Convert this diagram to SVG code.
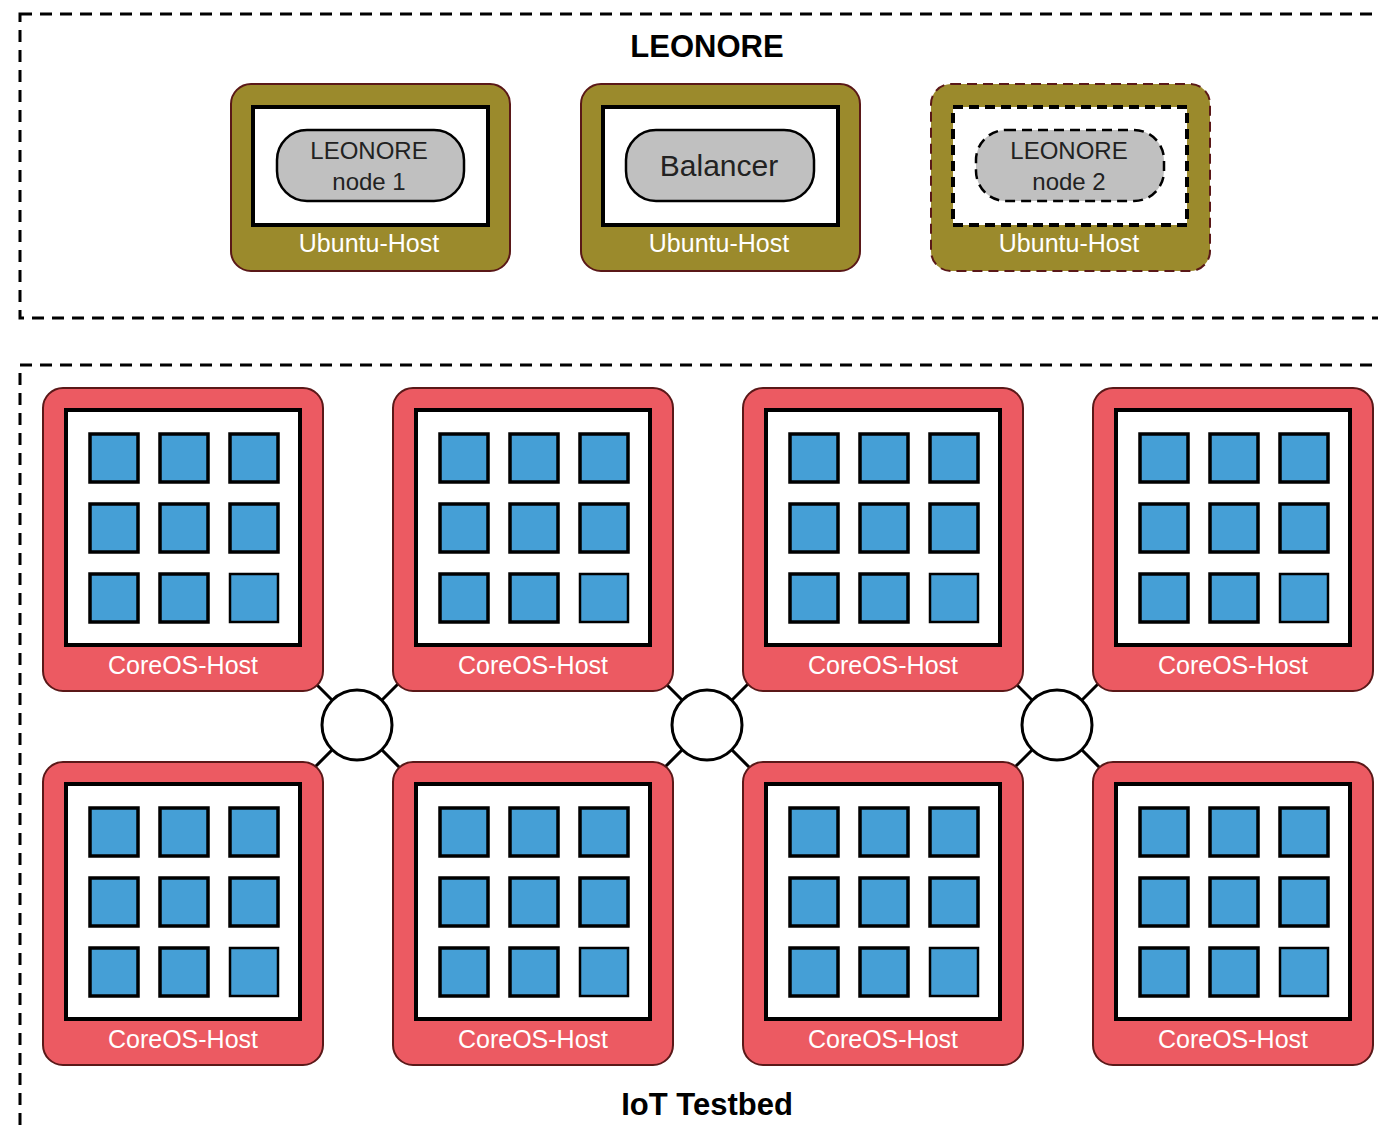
<svg xmlns="http://www.w3.org/2000/svg" xmlns:xlink="http://www.w3.org/1999/xlink" width="1378" height="1131" viewBox="0 0 1378 1131">
  <style>
    .frame { fill: none; stroke: #000; stroke-width: 3; stroke-dasharray: 12 8; }
    .title { font-family: "Liberation Sans", Arial, sans-serif; font-weight: bold; font-size: 31px; fill: #000; text-anchor: middle; }
    .ubuntu { fill: #9b8a2c; stroke: #5a1818; stroke-width: 2; }
    .coreos { fill: #ec5a62; stroke: #5a1818; stroke-width: 2; }
    .inner { fill: #fff; stroke: #000; stroke-width: 4; }
    .pill { fill: #c0c0c0; stroke: #000; stroke-width: 2.5; }
    .dash { stroke-dasharray: 10 6; }
    .sq { fill: #459fd6; stroke: #000; stroke-width: 3.5; }
    .sq2 { fill: #459fd6; stroke: #000; stroke-width: 2.5; }
    .lbl { font-family: "Liberation Sans", Arial, sans-serif; font-size: 25px; fill: #fff; text-anchor: middle; }
    .svc { font-family: "Liberation Sans", Arial, sans-serif; font-size: 24px; fill: #222; text-anchor: middle; }
    .link { stroke: #000; stroke-width: 3; }
    .hub { fill: #fff; stroke: #000; stroke-width: 3; }
  </style>
  <defs>
    <!-- 3x3 grid of containers inside a CoreOS host, relative to host origin -->
    <g id="grid">
      <rect class="sq" x="47" y="46" width="48" height="48"/>
      <rect class="sq" x="117" y="46" width="48" height="48"/>
      <rect class="sq" x="187" y="46" width="48" height="48"/>
      <rect class="sq" x="47" y="116" width="48" height="48"/>
      <rect class="sq" x="117" y="116" width="48" height="48"/>
      <rect class="sq" x="187" y="116" width="48" height="48"/>
      <rect class="sq" x="47" y="186" width="48" height="48"/>
      <rect class="sq" x="117" y="186" width="48" height="48"/>
      <rect class="sq2" x="187" y="186" width="48" height="48"/>
    </g>
    <g id="coreos">
      <rect class="coreos" x="0" y="0" width="280" height="303" rx="20"/>
      <rect class="inner" x="23" y="22" width="234" height="235"/>
      <use xlink:href="#grid"/>
      <text class="lbl" x="140" y="286">CoreOS-Host</text>
    </g>
  </defs>

  <!-- cluster frames -->
  <rect class="frame" x="20" y="14" width="1400" height="304"/>
  <rect class="frame" x="20" y="365" width="1400" height="800"/>
  <text class="title" x="707" y="57">LEONORE</text>
  <text class="title" x="707" y="1115">IoT Testbed</text>

  <!-- network links between hosts -->
  <g id="connectors">
    <line class="link" x1="310" y1="678" x2="404" y2="772"/>
    <line class="link" x1="404" y1="678" x2="310" y2="772"/>
    <line class="link" x1="660" y1="678" x2="754" y2="772"/>
    <line class="link" x1="754" y1="678" x2="660" y2="772"/>
    <line class="link" x1="1010" y1="678" x2="1104" y2="772"/>
    <line class="link" x1="1104" y1="678" x2="1010" y2="772"/>
    <circle class="hub" cx="357" cy="725" r="35"/>
    <circle class="hub" cx="707" cy="725" r="35"/>
    <circle class="hub" cx="1057" cy="725" r="35"/>
  </g>

  <!-- LEONORE hosts -->
  <g id="ubuntu-1">
    <rect class="ubuntu" x="231" y="84" width="279" height="187" rx="20"/>
    <rect class="inner" x="253" y="107" width="235" height="118"/>
    <rect class="pill" x="277" y="130" width="187" height="71" rx="30"/>
    <text class="svc" x="369" y="159">LEONORE</text>
    <text class="svc" x="369" y="190">node 1</text>
    <text class="lbl" x="369" y="252">Ubuntu-Host</text>
  </g>
  <g id="ubuntu-balancer">
    <rect class="ubuntu" x="581" y="84" width="279" height="187" rx="20"/>
    <rect class="inner" x="603" y="107" width="235" height="118"/>
    <rect class="pill" x="626" y="130" width="188" height="71" rx="30"/>
    <text class="svc" x="719" y="176" style="font-size:30px">Balancer</text>
    <text class="lbl" x="719" y="252">Ubuntu-Host</text>
  </g>
  <g id="ubuntu-2">
    <rect class="ubuntu dash" x="931" y="84" width="279" height="187" rx="20"/>
    <rect class="inner dash" x="953" y="107" width="234" height="118"/>
    <rect class="pill dash" x="976" y="130" width="188" height="71" rx="30"/>
    <text class="svc" x="1069" y="159">LEONORE</text>
    <text class="svc" x="1069" y="190">node 2</text>
    <text class="lbl" x="1069" y="252">Ubuntu-Host</text>
  </g>

  <!-- IoT testbed hosts -->
  <g id="coreos-1"><use xlink:href="#coreos" x="43" y="388"/></g>
  <g id="coreos-2"><use xlink:href="#coreos" x="393" y="388"/></g>
  <g id="coreos-3"><use xlink:href="#coreos" x="743" y="388"/></g>
  <g id="coreos-4"><use xlink:href="#coreos" x="1093" y="388"/></g>
  <g id="coreos-5"><use xlink:href="#coreos" x="43" y="762"/></g>
  <g id="coreos-6"><use xlink:href="#coreos" x="393" y="762"/></g>
  <g id="coreos-7"><use xlink:href="#coreos" x="743" y="762"/></g>
  <g id="coreos-8"><use xlink:href="#coreos" x="1093" y="762"/></g>
</svg>
